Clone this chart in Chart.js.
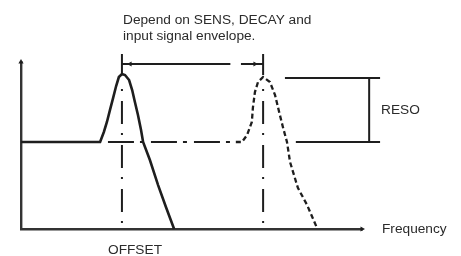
<!DOCTYPE html>
<html>
<head>
<meta charset="utf-8">
<script src="https://cdn.jsdelivr.net/npm/chart.js@4.4.1/dist/chart.umd.min.js"></script>
<style>
  body { margin: 0; background: #fff; }
  canvas { display: block; }
</style>
</head>
<body>
<canvas id="chart" width="461" height="256"></canvas>
<script>
// frequency runs 0..100 along x, level 0..100 along y
var solidFreq = [0, 23.2, 24.3, 25.2, 26.1, 27.0, 27.9, 28.7, 29.6, 30.5, 31.7, 32.6, 33.4, 34.3, 35.2, 35.8, 37.8, 40.2, 42.5, 44.9];
var solidLevel = [52.1, 52.1, 58.1, 64.1, 71.3, 78.4, 85.6, 91.0, 92.8, 92.2, 89.2, 83.2, 76.0, 68.3, 59.3, 52.1, 41.3, 26.3, 13.2, 0];

var dashedFreq = [63.0, 64.8, 66.3, 67.7, 68.0, 68.6, 69.5, 71.0, 73.0, 74.5, 75.7, 76.8, 78.0, 78.9, 81.2, 83.9, 86.8];
var dashedLevel = [52.1, 52.1, 56.3, 64.1, 72.5, 82.0, 88.0, 91.0, 88.0, 80.2, 70.1, 61.1, 52.1, 40.1, 24.6, 14.4, 0.6];

var baseLevel = 52.1;
var baseSpan = [25.5, 62.2];
var peakFreq = [29.6, 71.0];
var markerSpan = [3.6, 84.4];
var tickSpan = [92.2, 104.8];
var arrowLevel = 98.8;
var arrowGap = [61.4, 64.5];
var resoLevel = 90.4;
var resoFreq = 102.1;
var resoTopSpan = [77.4, 105.3];
var resoLowSpan = [80.6, 105.3];

var noteLines = ['Depend on SENS, DECAY and', 'input signal envelope.'];
var resoLabel = 'RESO';
var offsetLabel = 'OFFSET';
var axisLabel = 'Frequency';

var ink = '#1e1e1e';

function pts(xs, ys) {
  return xs.map(function(x, i) { return {x: x, y: ys[i]}; });
}

function line(data, dash, width) {
  return {
    data: data,
    showLine: true,
    borderColor: ink,
    borderWidth: width || 2,
    borderDash: dash || [],
    pointRadius: 0,
    tension: 0,
    clip: false
  };
}

var markers = [];
peakFreq.forEach(function(f) {
  markers.push(line([{x: f, y: markerSpan[0]}, {x: f, y: markerSpan[1]}], [2, 9, 23, 10]));
});

var ticks = [
  {x: peakFreq[0], y: tickSpan[0]}, {x: peakFreq[0], y: tickSpan[1]},
  {x: peakFreq[0], y: null},
  {x: peakFreq[1], y: tickSpan[0]}, {x: peakFreq[1], y: tickSpan[1]}
];

var arrow = [
  {x: peakFreq[0], y: arrowLevel}, {x: arrowGap[0], y: arrowLevel},
  {x: arrowGap[0], y: null},
  {x: arrowGap[1], y: arrowLevel}, {x: peakFreq[1], y: arrowLevel}
];

var reso = [
  {x: resoTopSpan[0], y: resoLevel}, {x: resoTopSpan[1], y: resoLevel},
  {x: resoTopSpan[1], y: null},
  {x: resoLowSpan[0], y: baseLevel}, {x: resoLowSpan[1], y: baseLevel},
  {x: resoLowSpan[1], y: null},
  {x: resoFreq, y: resoLevel}, {x: resoFreq, y: baseLevel}
];

var heads = [
  {x: peakFreq[0] + 2.4, y: arrowLevel},
  {x: peakFreq[1] - 2.4, y: arrowLevel},
  {x: resoFreq, y: resoLevel - 2.4},
  {x: resoFreq, y: baseLevel + 2.4},
  {x: 0, y: 100},
  {x: 100, y: 0}
];
var headTurn = [-90, 90, 0, 180, 0, 90];

var textPlugin = {
  id: 'texts',
  afterDraw: function(chart) {
    var c = chart.ctx;
    c.save();
    c.fillStyle = '#2b2b2b';
    c.font = '13.7px "Liberation Sans", Arial, sans-serif';
    c.textBaseline = 'alphabetic';
    c.fillText(noteLines[0], 123, 24);
    c.fillText(noteLines[1], 123, 40);
    c.fillText(resoLabel, 381, 114);
    c.fillText(offsetLabel, 108, 254);
    c.fillText(axisLabel, 382, 233);
    c.restore();
  }
};

var datasets = [
  line(pts(solidFreq, solidLevel), null, 2.6),
  line(pts(dashedFreq, dashedLevel), [5, 3], 2.3),
  line([{x: baseSpan[0], y: baseLevel}, {x: baseSpan[1], y: baseLevel}], [26, 6, 4, 7])
].concat(markers).concat([
  line(ticks),
  line(arrow),
  line(reso),
  {
    data: heads,
    showLine: false,
    pointStyle: 'triangle',
    pointRadius: 3,
    pointRotation: headTurn,
    pointBackgroundColor: ink,
    pointBorderWidth: 0,
    clip: false
  }
]);

var ctx = document.getElementById('chart');

var chart = new Chart(ctx, {
  type: 'scatter',
  data: { datasets: datasets },
  options: {
    responsive: false,
    animation: false,
    events: [],
    layout: { padding: { left: 21, right: 99, top: 62, bottom: 27 } },
    plugins: {
      legend: { display: false },
      tooltip: { enabled: false }
    },
    scales: {
      x: {
        type: 'linear', min: 0, max: 100,
        grid: { display: false, drawTicks: false },
        ticks: { display: false },
        border: { display: true, color: '#333', width: 2.4 }
      },
      y: {
        type: 'linear', min: 0, max: 100,
        grid: { display: false, drawTicks: false },
        ticks: { display: false },
        border: { display: true, color: '#333', width: 2.4 }
      }
    }
  },
  plugins: [textPlugin]
});
</script>
</body>
</html>
